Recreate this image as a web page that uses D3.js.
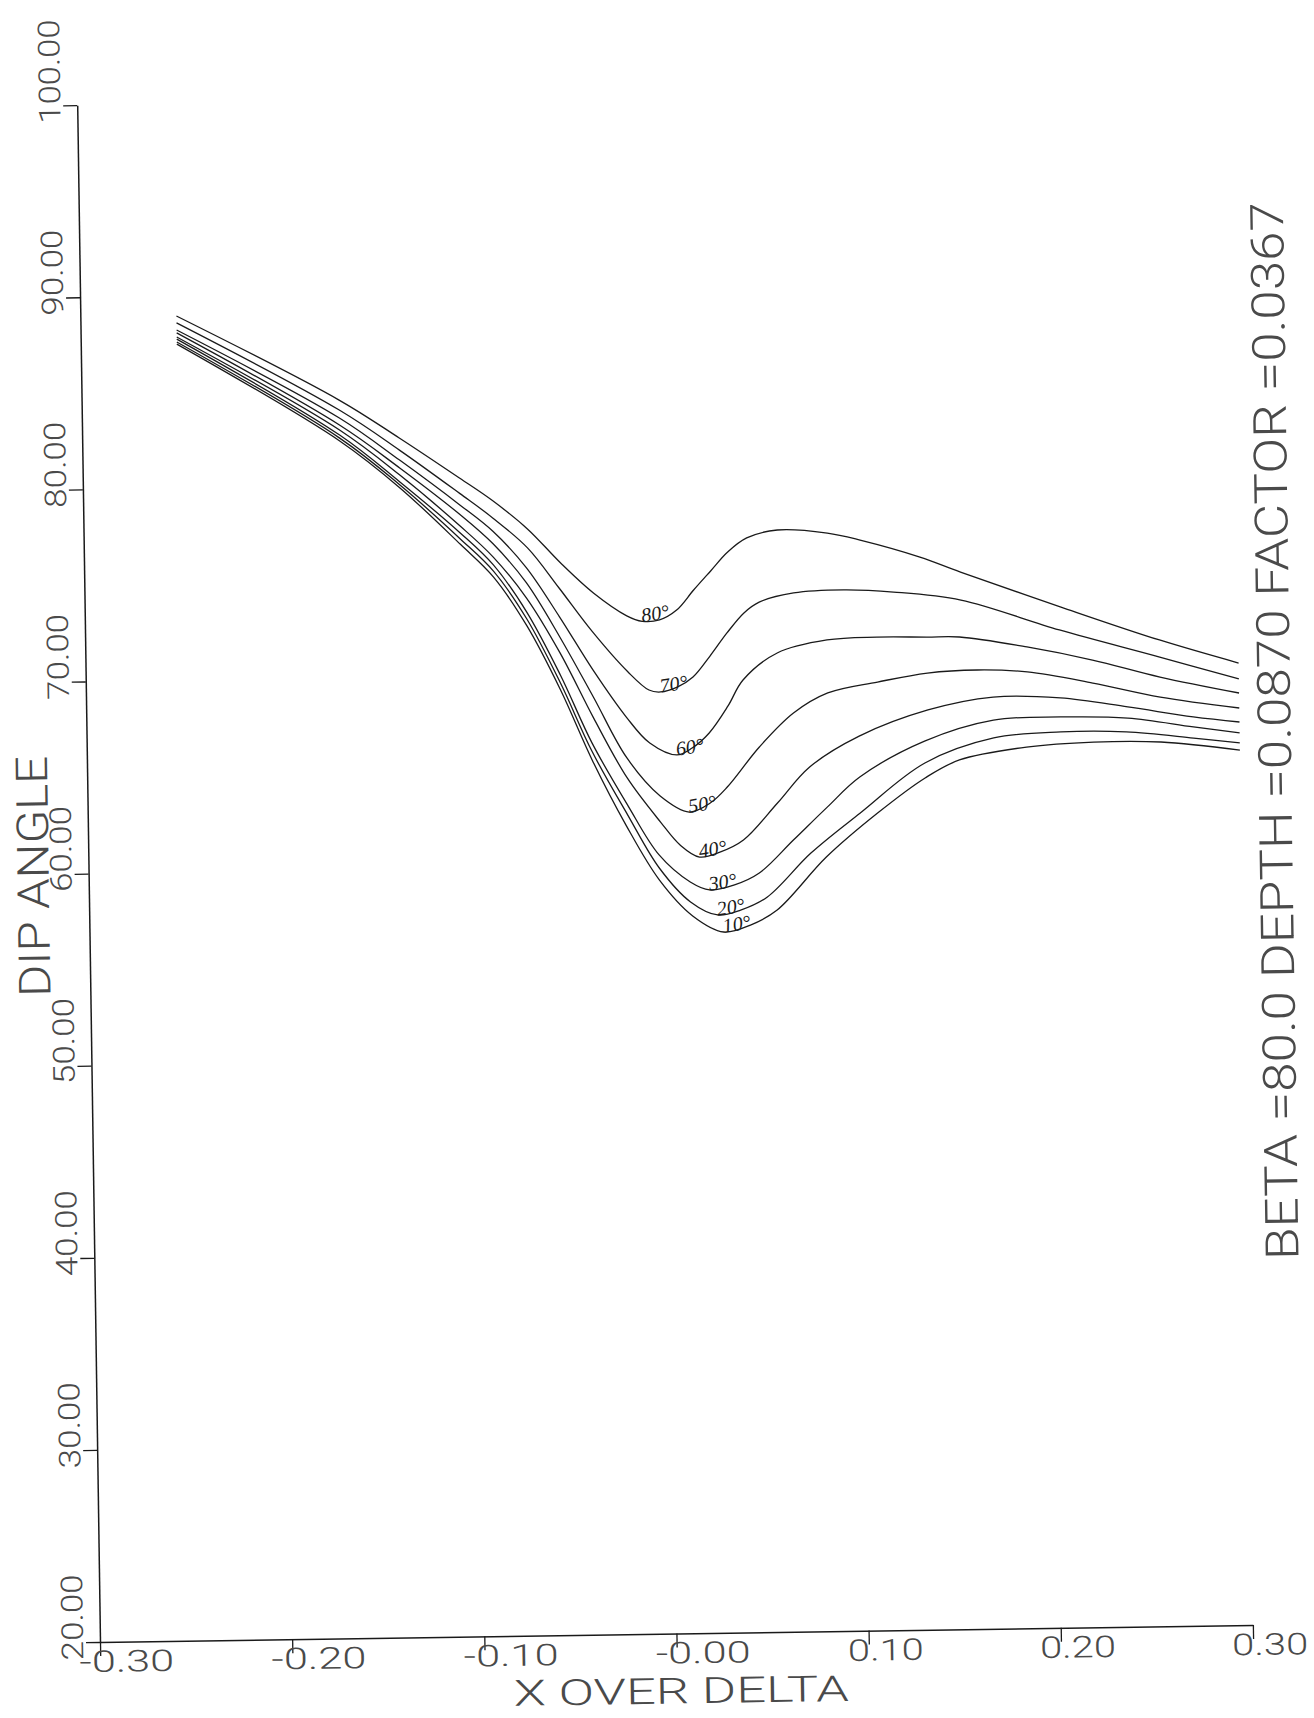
<!DOCTYPE html>
<html>
<head>
<meta charset="utf-8">
<script src="https://cdn.jsdelivr.net/npm/d3@7"></script>
<style>
  html, body { margin: 0; padding: 0; background: #fff; }
  svg { display: block; }
</style>
</head>
<body>
<svg id="chart" width="1314" height="1718"></svg>
<script>
// Dip angle against X/DELTA, one curve per plate dip: [x over delta, dip angle]
const dip80 = [[-0.25, 88.95], [-0.166, 84.45], [-0.135, 82.43], [-0.104, 80.30], [-0.087, 79.10], [-0.069, 77.60], [-0.052, 75.80], [-0.035, 74.20], [-0.018, 73.00], [-0.010, 72.70], [-0.001, 72.76], [0.008, 73.26], [0.017, 74.29], [0.026, 75.27], [0.035, 76.24], [0.045, 76.96], [0.061, 77.35], [0.087, 77.15], [0.104, 76.76], [0.135, 75.83], [0.156, 75.02], [0.208, 73.12], [0.259, 71.33], [0.30, 70.07]];
const dip70 = [[-0.25, 88.59], [-0.166, 83.93], [-0.135, 81.80], [-0.104, 79.50], [-0.087, 78.20], [-0.069, 76.60], [-0.053, 74.50], [-0.036, 72.20], [-0.018, 70.10], [-0.007, 69.12], [-0.001, 69.01], [0.008, 69.26], [0.016, 69.76], [0.025, 70.84], [0.034, 72.03], [0.043, 73.06], [0.051, 73.61], [0.069, 74.06], [0.095, 74.18], [0.121, 74.03], [0.156, 73.56], [0.207, 71.93], [0.259, 70.44], [0.30, 69.24]];
const dip60 = [[-0.25, 88.22], [-0.166, 83.52], [-0.135, 81.28], [-0.104, 78.90], [-0.087, 77.50], [-0.070, 75.60], [-0.053, 73.00], [-0.036, 70.21], [-0.019, 67.73], [-0.007, 66.36], [0.007, 65.72], [0.015, 66.07], [0.024, 66.84], [0.034, 68.23], [0.042, 69.57], [0.060, 70.95], [0.086, 71.59], [0.112, 71.70], [0.138, 71.66], [0.155, 71.64], [0.190, 71.07], [0.224, 70.34], [0.259, 69.40], [0.30, 68.51]];
const dip50 = [[-0.25, 88.07], [-0.166, 83.15], [-0.135, 80.87], [-0.104, 78.40], [-0.087, 76.85], [-0.070, 74.80], [-0.053, 71.95], [-0.036, 68.80], [-0.019, 65.60], [-0.002, 63.60], [0.013, 62.74], [0.024, 63.19], [0.033, 64.01], [0.050, 66.07], [0.068, 67.81], [0.086, 68.83], [0.112, 69.36], [0.138, 69.79], [0.164, 69.91], [0.190, 69.77], [0.224, 69.14], [0.259, 68.36], [0.30, 67.73]];
const dip40 = [[-0.25, 87.86], [-0.166, 82.89], [-0.135, 80.50], [-0.104, 77.80], [-0.087, 76.16], [-0.070, 74.00], [-0.053, 71.12], [-0.036, 67.70], [-0.019, 64.56], [-0.002, 62.24], [0.008, 61.03], [0.018, 60.39], [0.029, 60.64], [0.041, 61.24], [0.059, 63.14], [0.076, 64.99], [0.102, 66.56], [0.138, 67.87], [0.172, 68.49], [0.207, 68.39], [0.242, 67.87], [0.276, 67.30], [0.30, 67.00]];
const dip30 = [[-0.25, 87.75], [-0.166, 82.63], [-0.135, 80.14], [-0.104, 77.44], [-0.087, 75.75], [-0.070, 73.27], [-0.053, 69.97], [-0.037, 66.40], [-0.019, 63.15], [-0.003, 60.53], [0.013, 59.10], [0.023, 58.67], [0.036, 58.91], [0.049, 59.51], [0.067, 61.20], [0.085, 62.90], [0.102, 64.43], [0.136, 66.25], [0.172, 67.29], [0.207, 67.40], [0.242, 67.29], [0.276, 66.78], [0.30, 66.43]];
const dip20 = [[-0.25, 87.60], [-0.166, 82.47], [-0.135, 79.98], [-0.104, 77.13], [-0.087, 75.43], [-0.070, 72.91], [-0.053, 69.55], [-0.037, 65.95], [-0.019, 62.63], [-0.003, 59.85], [0.013, 58.06], [0.027, 57.36], [0.039, 57.60], [0.053, 58.26], [0.076, 60.51], [0.102, 62.56], [0.136, 65.11], [0.172, 66.36], [0.207, 66.62], [0.241, 66.57], [0.276, 66.20], [0.30, 65.91]];
const dip10 = [[-0.25, 87.49], [-0.166, 82.32], [-0.135, 79.83], [-0.104, 76.85], [-0.087, 75.12], [-0.070, 72.55], [-0.053, 69.19], [-0.037, 65.50], [-0.020, 62.11], [-0.003, 59.22], [0.014, 57.33], [0.030, 56.47], [0.044, 56.81], [0.058, 57.57], [0.084, 60.29], [0.111, 62.54], [0.136, 64.33], [0.154, 65.24], [0.189, 65.86], [0.224, 66.07], [0.259, 66.02], [0.30, 65.54]];

const curveNames = ["10°", "20°", "30°", "40°", "50°", "60°", "70°", "80°"];
const curveValues = [dip10, dip20, dip30, dip40, dip50, dip60, dip70, dip80];

const xTicks = [-0.3, -0.2, -0.1, 0, 0.1, 0.2, 0.3];
const xTickLabels = ["-0.30", "-0.20", "-0.10", "-0.00", "0.10", "0.20", "0.30"];
const yTicks = [20, 30, 40, 50, 60, 70, 80, 90, 100];
const yTickLabels = ["20.00", "30.00", "40.00", "50.00", "60.00", "70.00", "80.00", "90.00", "100.00"];
const xTitle = "X OVER DELTA";
const yTitle = "DIP ANGLE";
const paramNote = "BETA =80.0 DEPTH =0.0870 FACTOR =0.0367";

const series = curveNames.map((name, i) => ({ name, values: curveValues[i] }));

const svg = d3.select("#chart");
const x = d3.scaleLinear().domain([-0.3, 0.3]).range([100, 1253]);
const y = d3.scaleLinear().domain([20, 100]).range([1642, 105]);

// the whole plotter sheet sits slightly skewed on the page
const sheet = svg.append("g")
  .attr("transform", `rotate(-0.85 ${x(-0.3)} ${y(20)})`);

const plotterFont = "Roboto, 'DejaVu Sans', sans-serif";
const ink = "#1a1a1a";
const labelInk = "#4a4a4a";

// axes: outward ticks, labels drawn separately in plotter style
const xAxis = sheet.append("g")
  .attr("transform", `translate(0,${y(20)})`)
  .call(d3.axisBottom(x).tickValues(xTicks).tickSize(14).tickSizeOuter(0).tickFormat(""));
const yAxis = sheet.append("g")
  .attr("transform", `translate(${x(-0.3)},0)`)
  .call(d3.axisLeft(y).tickValues(yTicks).tickSize(14).tickSizeOuter(0).tickFormat(""));
[xAxis, yAxis].forEach(a => {
  a.select(".domain").attr("stroke", ink).attr("stroke-width", 1.5);
  a.selectAll(".tick line").attr("stroke", ink).attr("stroke-width", 1.3);
});

// x tick labels
sheet.append("g")
  .attr("font-family", plotterFont)
  .attr("font-weight", 300)
  .attr("font-size", 30)
  .attr("fill", labelInk)
  .selectAll("text")
  .data(xTicks)
  .join("text")
  .attr("x", d => x(d) - 21)
  .attr("y", y(20) + 30)
  .attr("textLength", (d, i) => 19 * xTickLabels[i].length)
  .attr("lengthAdjust", "spacingAndGlyphs")
  .text((d, i) => xTickLabels[i]);

// y tick labels, reading upwards
sheet.append("g")
  .attr("font-family", plotterFont)
  .attr("font-weight", 300)
  .attr("font-size", 30)
  .attr("fill", labelInk)
  .selectAll("text")
  .data(yTicks)
  .join("text")
  .attr("transform", d => `translate(${x(-0.3) - 17},${y(d) + 18}) rotate(-90)`)
  .attr("textLength", (d, i) => 18 * yTickLabels[i].length - 4)
  .attr("lengthAdjust", "spacingAndGlyphs")
  .text((d, i) => yTickLabels[i]);

// axis titles
sheet.append("text")
  .attr("x", (x(-0.3) + x(0.3)) / 2 + 4)
  .attr("y", y(20) + 70)
  .attr("text-anchor", "middle")
  .attr("font-family", plotterFont)
  .attr("font-weight", 300)
  .attr("font-size", 36)
  .attr("fill", labelInk)
  .attr("textLength", 335)
  .attr("lengthAdjust", "spacingAndGlyphs")
  .text(xTitle);

sheet.append("text")
  .attr("transform", `translate(${x(-0.3) - 40},${(y(20) + y(100)) / 2 + 2}) rotate(-90)`)
  .attr("text-anchor", "middle")
  .attr("font-family", plotterFont)
  .attr("font-weight", 300)
  .attr("font-size", 44)
  .attr("fill", labelInk)
  .attr("textLength", 241)
  .attr("lengthAdjust", "spacingAndGlyphs")
  .text(yTitle);

// run parameters along the right edge
sheet.append("text")
  .attr("transform", `translate(${x(0.3) + 51},${y(66.5)}) rotate(-90)`)
  .attr("text-anchor", "middle")
  .attr("font-family", plotterFont)
  .attr("font-weight", 300)
  .attr("font-size", 46)
  .attr("fill", labelInk)
  .attr("textLength", 1058)
  .attr("lengthAdjust", "spacingAndGlyphs")
  .text(paramNote);

// the dip curves
const line = d3.line()
  .x(d => x(d[0]))
  .y(d => y(d[1]))
  .curve(d3.curveCatmullRom.alpha(0.5));

sheet.append("g")
  .selectAll("path")
  .data(series)
  .join("path")
  .attr("d", d => line(d.values))
  .attr("fill", "none")
  .attr("stroke", ink)
  .attr("stroke-width", 1.3)
  .attr("stroke-linejoin", "round");

// hand-written dip labels just above the bottom of each curve's trough
sheet.append("g")
  .attr("font-family", "'Liberation Serif', 'DejaVu Serif', serif")
  .attr("font-style", "italic")
  .attr("font-size", 20)
  .attr("fill", ink)
  .selectAll("text")
  .data(series)
  .join("text")
  .each(function (d) {
    const trough = d3.least(d.values.filter(p => p[0] > -0.06 && p[0] < 0.08), p => p[1]);
    d3.select(this)
      .attr("transform", `translate(${x(trough[0]) + 13},${y(trough[1]) - 8}) rotate(-8)`);
  })
  .attr("text-anchor", "middle")
  .attr("dominant-baseline", "central")
  .text(d => d.name);
</script>
</body>
</html>
